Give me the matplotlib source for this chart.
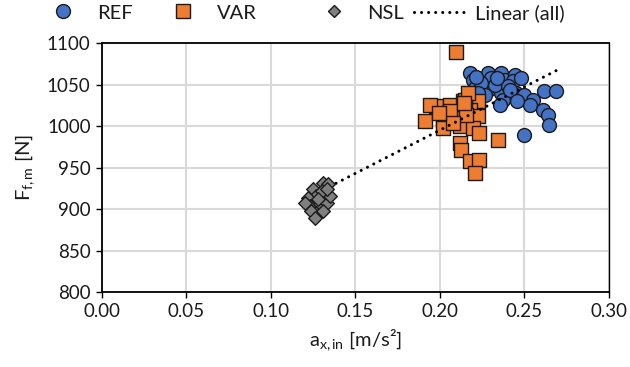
import numpy as np
import matplotlib
matplotlib.use("Agg")
import matplotlib.pyplot as plt
from matplotlib.lines import Line2D

plt.rcParams['font.family'] = ['Lato', 'DejaVu Sans']
plt.rcParams['mathtext.fontset'] = 'custom'
plt.rcParams['mathtext.rm'] = 'Lato'
plt.rcParams['mathtext.it'] = 'Lato:italic'

# ---- data ----
ref_x = [0.2175, 0.2195, 0.2284, 0.2304, 0.2363, 0.2382, 0.2442, 0.2431, 0.2481,
         0.2618, 0.2688, 0.2205, 0.2284, 0.2363, 0.2372, 0.2353, 0.2451, 0.2471,
         0.2500, 0.2549, 0.2530, 0.2608, 0.2638, 0.2648, 0.2500, 0.2245, 0.2323,
         0.2402, 0.2264, 0.2215, 0.2335, 0.2415, 0.2225, 0.2455]
ref_y = [1064, 1056, 1064, 1058, 1064, 1056, 1062, 1054, 1058,
         1042, 1042, 1046, 1044, 1040, 1032, 1026, 1040, 1034,
         1038, 1032, 1026, 1020, 1014, 1002, 990, 1052, 1050,
         1048, 1038, 1060, 1058, 1044, 1040, 1030]

var_x = [0.2096, 0.1910, 0.1979, 0.2057, 0.2136, 0.2224, 0.2018, 0.2097, 0.2175,
         0.2224, 0.2018, 0.2116, 0.2195, 0.2234, 0.2343, 0.2116, 0.2126, 0.2175,
         0.2234, 0.2205, 0.2057, 0.2156, 0.2077, 0.1939, 0.2146, 0.2165, 0.1995,
         0.2145]
var_y = [1090, 1006, 1024, 1026, 1030, 1030, 1008, 1010, 1020,
         1012, 998, 1000, 998, 992, 984, 980, 972, 958,
         960, 944, 1018, 1014, 1004, 1026, 1032, 1040, 1016,
         1028]

nsl_x = [0.1309, 0.1339, 0.1250, 0.1270, 0.1220, 0.1230, 0.1200, 0.1290, 0.1330,
         0.1349, 0.1270, 0.1240, 0.1310, 0.1300, 0.1330, 0.1260, 0.1280]
nsl_y = [932, 930, 924, 916, 914, 904, 908, 906, 908,
         916, 896, 898, 898, 922, 924, 890, 912]

x_ticks = [0.00, 0.05, 0.10, 0.15, 0.20, 0.25, 0.30]
y_ticks = [800, 850, 900, 950, 1000, 1050, 1100]

text_col = '#1a1a1a'
fs_tick = 13.5
fs = 14.5

fig = plt.figure(figsize=(6.30, 3.67), dpi=100)
ax = fig.add_axes([0.1614, 0.2035, 0.8053, 0.6785])

ax.scatter(ref_x, ref_y, s=100, marker='o', facecolor='#4472C4', edgecolor='#1a1a1a',
           linewidth=1.0, zorder=3)
ax.scatter(var_x, var_y, s=100, marker='s', facecolor='#ED7D31', edgecolor='#1a1a1a',
           linewidth=1.0, zorder=4)

all_x = np.array(ref_x + var_x + nsl_x)
all_y = np.array(ref_y + var_y + nsl_y)
k, b = np.polyfit(all_x, all_y, 1)
tx = np.array([all_x.min(), all_x.max()])
ax.plot(tx, k * tx + b, color='black', linewidth=2.2, linestyle=(0, (0.01, 2.3)),
        dash_capstyle='round', zorder=5)

ax.scatter(nsl_x, nsl_y, s=48, marker='D', facecolor='#7F7F7F', edgecolor='#1a1a1a',
           linewidth=1.0, zorder=6)

ax.set_xlim(0, 0.30)
ax.set_ylim(800, 1100)
ax.set_xticks(x_ticks)
ax.set_xticklabels([f"{v:.2f}" for v in x_ticks])
ax.set_yticks(y_ticks)
ax.grid(True, color='#d9d9d9', linewidth=1.5, zorder=0)
ax.set_axisbelow(True)
for sp in ax.spines.values():
    sp.set_color('black')
    sp.set_linewidth(1.3)
ax.spines['right'].set_linewidth(1.0)
ax.tick_params(axis='both', direction='out', length=4, width=1.0, colors='black',
               labelcolor=text_col, labelsize=fs_tick, pad=4)

ax.set_xlabel(r'a$_{\mathrm{x,in}}$ [m/s²]', fontsize=fs, color=text_col, labelpad=5)
ax.set_ylabel(r'F$_{\mathrm{f,m}}$ [N]', fontsize=fs, color=text_col, labelpad=7)

handles = [
    Line2D([], [], marker='o', linestyle='none', markersize=10, markerfacecolor='#4472C4',
           markeredgecolor='#1a1a1a', markeredgewidth=1.0),
    Line2D([], [], marker='s', linestyle='none', markersize=9.5, markerfacecolor='#ED7D31',
           markeredgecolor='#1a1a1a', markeredgewidth=1.0),
    Line2D([], [], marker='D', linestyle='none', markersize=6.5, markerfacecolor='#7F7F7F',
           markeredgecolor='#1a1a1a', markeredgewidth=1.0),
    Line2D([], [], color='black', linewidth=2.2, linestyle=(0, (0.01, 2.3)),
           dash_capstyle='round'),
]
labels = ['REF', 'VAR', 'NSL', 'Linear (all)']
starts = [35.5, 155.5, 306, 414]
for h, l, xs in zip(handles, labels, starts):
    fig.legend([h], [l], loc='center left', bbox_to_anchor=(xs / 630, 1 - 13 / 367),
               frameon=False, fontsize=fs, handlelength=2.75, handletextpad=0.3,
               borderpad=0, borderaxespad=0, labelcolor=text_col)

fig.savefig('out.png', dpi=100)
